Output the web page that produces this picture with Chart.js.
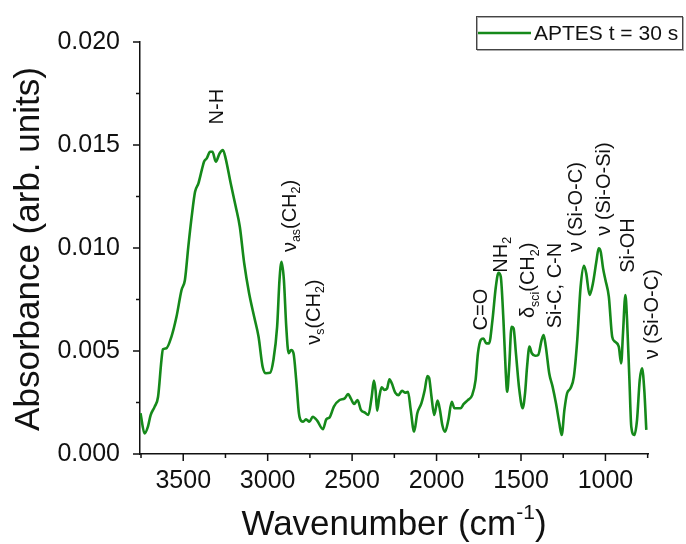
<!DOCTYPE html>
<html>
<head>
<meta charset="utf-8">
<script src="https://cdn.jsdelivr.net/npm/chart.js@4.4.1/dist/chart.umd.min.js"></script>
<style>
  html, body { margin: 0; padding: 0; background: #fff; }
  #wrap { width: 686px; height: 544px; }
</style>
</head>
<body>
<div id="wrap"><canvas id="chart" width="686" height="544"></canvas></div>
<script>
// FTIR spectrum (wavenumber in cm-1, descending)
const wavenumber = [
  3753, 3729, 3709, 3693, 3669, 3649, 3629, 3620, 3600, 3570, 3540, 3510, 3490, 3470, 3450,
  3430, 3410, 3390, 3377, 3361, 3341, 3327, 3307, 3285, 3265, 3249, 3219, 3189, 3165, 3139,
  3110, 3080, 3054, 3030, 3010, 2986, 2966, 2944, 2930, 2918, 2904, 2890, 2876, 2861, 2847,
  2831, 2815, 2801, 2790, 2773, 2753, 2733, 2707, 2673, 2653, 2633, 2608, 2574, 2544, 2524,
  2508, 2488, 2468, 2448, 2424, 2404, 2384, 2371, 2361, 2352, 2339, 2325, 2309, 2293, 2279,
  2265, 2245, 2225, 2205, 2185, 2169, 2153, 2133, 2114, 2090, 2070, 2054, 2044, 2030, 2014,
  1994, 1980, 1966, 1950, 1930, 1910, 1894, 1876, 1858, 1839, 1815, 1789, 1769, 1755, 1739,
  1723, 1705, 1689, 1669, 1649, 1633, 1620, 1604, 1590, 1582, 1570, 1556, 1544, 1530, 1510,
  1490, 1476, 1464, 1450, 1436, 1416, 1398, 1378, 1366, 1353, 1333, 1313, 1293, 1273, 1259,
  1243, 1227, 1207, 1187, 1167, 1147, 1127, 1114, 1094, 1074, 1054, 1040, 1028, 1014, 1000,
  980, 960, 944, 921, 907, 896, 882, 872, 858, 847, 829, 813, 797, 783, 770, 758
];
const absorbance = [
  0.00198, 0.00100, 0.00133, 0.00189, 0.00230, 0.00278, 0.00456, 0.00508, 0.00513, 0.00569, 0.00666, 0.00796, 0.00845, 0.01006, 0.01152,
  0.01273, 0.01314, 0.01379, 0.01419, 0.01435, 0.01467, 0.01467, 0.01419, 0.01459, 0.01476, 0.01435, 0.01314, 0.01200, 0.01103, 0.00926,
  0.00780, 0.00666, 0.00569, 0.00424, 0.00392, 0.00394, 0.00456, 0.00618, 0.00845, 0.00933, 0.00845, 0.00618, 0.00489, 0.00505, 0.00489,
  0.00359, 0.00198, 0.00160, 0.00157, 0.00168, 0.00157, 0.00181, 0.00162, 0.00120, 0.00168, 0.00178, 0.00230, 0.00262, 0.00270, 0.00291,
  0.00270, 0.00243, 0.00262, 0.00214, 0.00201, 0.00189, 0.00278, 0.00356, 0.00308, 0.00210, 0.00278, 0.00324, 0.00311, 0.00318, 0.00363,
  0.00343, 0.00298, 0.00286, 0.00307, 0.00298, 0.00302, 0.00214, 0.00108, 0.00198, 0.00246, 0.00311, 0.00379, 0.00370, 0.00278, 0.00189,
  0.00259, 0.00214, 0.00141, 0.00108, 0.00165, 0.00254, 0.00222, 0.00222, 0.00222, 0.00243, 0.00262, 0.00286, 0.00359, 0.00489, 0.00553,
  0.00561, 0.00537, 0.00537, 0.00650, 0.00812, 0.00880, 0.00862, 0.00650, 0.00392, 0.00302, 0.00424, 0.00618, 0.00610, 0.00489, 0.00311,
  0.00222, 0.00295, 0.00424, 0.00521, 0.00489, 0.00477, 0.00481, 0.00553, 0.00578, 0.00521, 0.00392, 0.00327, 0.00246, 0.00149, 0.00092,
  0.00214, 0.00295, 0.00319, 0.00375, 0.00553, 0.00812, 0.00913, 0.00878, 0.00772, 0.00829, 0.00933, 0.00998, 0.00982, 0.00901, 0.00845,
  0.00764, 0.00569, 0.00545, 0.00521, 0.00440, 0.00586, 0.00772, 0.00650, 0.00359, 0.00133, 0.00092, 0.00165, 0.00359, 0.00416, 0.00311, 0.00117
];

const seriesLabel = 'APTES t = 30 s';

const xMajorTicks = [3500, 3000, 2500, 2000, 1500, 1000];
const xMinorTicks = [3750, 3250, 2750, 2250, 1750, 1250, 750];
const yMajorTicks = [0, 0.005, 0.010, 0.015, 0.020];
const yMinorTicks = [0.0025, 0.0075, 0.0125, 0.0175];

// band assignments: wavenumber of the label, absorbance where the (rotated) text begins
const bandWn  = [3310, 2875, 2735, 1743, 1628, 1465, 1305, 1181, 1016, 876, 734];
const bandAbs = [0.0160, 0.0098, 0.0053, 0.0060, 0.0088, 0.0066, 0.0061, 0.0098, 0.0106, 0.0088, 0.0046];
const bandText = [
  [['N-H']],
  [['ν'], ['as', 'sub'], ['(CH'], ['2', 'sub'], [')']],
  [['ν'], ['s', 'sub'], ['(CH'], ['2', 'sub'], [')']],
  [['C=O']],
  [['NH'], ['2', 'sub']],
  [['δ'], ['sci', 'sub'], ['(CH'], ['2', 'sub'], [')']],
  [['Si-C, C-N']],
  [['ν (Si-O-C)']],
  [['ν (Si-O-Si)']],
  [['Si-OH']],
  [['ν (Si-O-C)']]
];

const FONT = '"Liberation Sans", Arial, Helvetica, sans-serif';
const GREEN = '#15891a';
const INK = '#111';

function font(size) { return size + 'px ' + FONT; }

// draws text parts (normal / sub) rotated 90deg, reading bottom to top
function drawRotated(ctx, parts, x, y, size) {
  ctx.save();
  ctx.translate(x, y);
  ctx.rotate(-Math.PI / 2);
  ctx.textAlign = 'left';
  ctx.textBaseline = 'alphabetic';
  let cx = 0;
  const base = size * 0.36;
  parts.forEach(([txt, mode]) => {
    const s = mode ? size * 0.62 : size;
    const dy = mode === 'sub' ? size * 0.22 : 0;
    ctx.font = font(s);
    ctx.fillText(txt, cx, base + dy);
    cx += ctx.measureText(txt).width;
  });
  ctx.restore();
}

const decor = {
  id: 'decor',
  afterDraw(chart) {
    const { ctx, chartArea: a, scales: { x, y } } = chart;
    ctx.save();
    ctx.strokeStyle = INK;
    ctx.fillStyle = INK;
    ctx.lineWidth = 1.5;

    // outward tick marks
    ctx.beginPath();
    xMajorTicks.forEach(v => { const px = x.getPixelForValue(v); ctx.moveTo(px, a.bottom); ctx.lineTo(px, a.bottom + 7); });
    xMinorTicks.forEach(v => { const px = x.getPixelForValue(v); ctx.moveTo(px, a.bottom); ctx.lineTo(px, a.bottom + 4); });
    yMajorTicks.forEach(v => { const py = y.getPixelForValue(v); ctx.moveTo(a.left, py); ctx.lineTo(a.left - 7, py); });
    yMinorTicks.forEach(v => { const py = y.getPixelForValue(v); ctx.moveTo(a.left, py); ctx.lineTo(a.left - 4, py); });
    ctx.stroke();

    // band labels
    bandText.forEach((parts, i) => {
      drawRotated(ctx, parts, x.getPixelForValue(bandWn[i]), y.getPixelForValue(bandAbs[i]), 20);
    });

    // y title
    ctx.save();
    ctx.translate(29, 249);
    ctx.rotate(-Math.PI / 2);
    ctx.font = font(35);
    ctx.textAlign = 'center';
    ctx.textBaseline = 'middle';
    ctx.fillText('Absorbance (arb. units)', 0, 0);
    ctx.restore();

    // x title with superscript
    const xt = [['Wavenumber (cm', 35], ['-1', 21], [')', 35]];
    let w = 0;
    xt.forEach(([t, s]) => { ctx.font = font(s); w += ctx.measureText(t).width; });
    let cx = (a.left + a.right) / 2 - w / 2;
    ctx.textAlign = 'left';
    ctx.textBaseline = 'alphabetic';
    xt.forEach(([t, s]) => {
      ctx.font = font(s);
      ctx.fillText(t, cx, s === 35 ? 535 : 519);
      cx += ctx.measureText(t).width;
    });

    // legend box
    ctx.lineWidth = 1;
    ctx.strokeStyle = '#aaa';
    ctx.strokeRect(477.5, 17.5, 206, 33);
    ctx.strokeStyle = '#444';
    ctx.strokeRect(476.5, 16.5, 206, 33);
    ctx.strokeStyle = GREEN;
    ctx.lineWidth = 2.6;
    ctx.beginPath();
    ctx.moveTo(478, 33);
    ctx.lineTo(531, 33);
    ctx.stroke();
    ctx.font = font(21);
    ctx.textBaseline = 'middle';
    ctx.fillText(chart.data.datasets[0].label, 534, 34);
    ctx.restore();
  }
};

new Chart(document.getElementById('chart'), {
  type: 'line',
  data: {
    datasets: [{
      label: seriesLabel,
      data: wavenumber.map((wn, i) => ({ x: wn, y: absorbance[i] })),
      borderColor: GREEN,
      borderWidth: 2.6,
      pointRadius: 0,
      fill: false,
      cubicInterpolationMode: 'monotone'
    }]
  },
  options: {
    responsive: false,
    animation: false,
    devicePixelRatio: 1,
    layout: { padding: { left: 0, right: 38, top: 42, bottom: 0 } },
    plugins: { legend: { display: false }, tooltip: { enabled: false } },
    scales: {
      x: {
        type: 'linear',
        reverse: true,
        min: 748,
        max: 3756,
        afterBuildTicks: s => { s.ticks = xMajorTicks.map(v => ({ value: v })); },
        afterFit: s => { s.height = 90; },
        grid: { display: false },
        border: { display: true, color: INK, width: 1.5 },
        ticks: { color: INK, font: { family: FONT, size: 25 }, padding: 4, maxRotation: 0, autoSkip: false, callback: v => String(v) }
      },
      y: {
        min: 0,
        max: 0.02,
        afterBuildTicks: s => { s.ticks = yMajorTicks.map(v => ({ value: v })); },
        afterFit: s => { s.width = 140; },
        grid: { display: false },
        border: { display: true, color: INK, width: 1.5 },
        ticks: { color: INK, font: { family: FONT, size: 25 }, padding: 12, callback: v => v.toFixed(3) }
      }
    }
  },
  plugins: [decor]
});
</script>
</body>
</html>
